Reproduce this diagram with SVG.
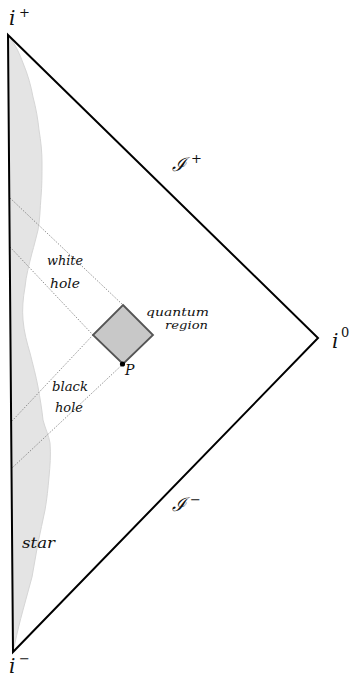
<svg xmlns="http://www.w3.org/2000/svg" width="350" height="684" viewBox="0 0 350 684">
<style>
.lbl{font-family:"DejaVu Serif","Liberation Serif",serif;font-style:italic;fill:#111}
.big{font-family:"DejaVu Serif","Liberation Serif",serif;font-style:italic;fill:#111;font-size:20px}
.sup{font-family:"DejaVu Serif","Liberation Serif",serif;fill:#111;font-size:13px}
.dot{stroke:#777;stroke-width:0.8;stroke-dasharray:1.5 1.5;fill:none}
</style>
<rect width="350" height="684" fill="#fff"/>
<g id="star">
<path d="M8,35 C16,45 20,55 23,63 C28,75 31,86 33,97 C36,108 38,120 39,130 C41,142 42,152 42,163 C42,175 42,186 41,197 C40,208 40,220 38,230 C36,238 34,246 32,253 C29,265 26,276 25,287 C23,298 22,310 23,320 C24,332 27,343 30,353 C33,365 36,376 38,387 C40,398 42,410 43,420 C45,428 49,436 50,443 C51,455 50,466 49,477 C48,488 47,499 45,510 C43,521 40,532 38,543 C36,554 34,566 32,577 C29,588 26,599 23,610 C20,621 17,633 15,643 L13,651 Z" fill="#e4e4e4" stroke="#d6d6d6" stroke-width="1"/>
</g>
<g id="connectors">
<line class="dot" x1="10" y1="198" x2="123" y2="305"/>
<line class="dot" x1="10" y1="247" x2="93" y2="335"/>
<line class="dot" x1="93" y1="335" x2="12" y2="421"/>
<line class="dot" x1="123" y1="364" x2="12" y2="468"/>
</g>
<g id="spacetime">
<path d="M8,35 L318,338 L13,652 Z" fill="none" stroke="#000" stroke-width="2" stroke-linejoin="miter"/>
</g>
<g id="quantum-region">
<path d="M123,305 L153,335 L123,364 L93,335 Z" fill="#c8c8c8" stroke="#555" stroke-width="1.8"/>
</g>
<g id="point-P">
<circle cx="122.5" cy="364" r="2.6" fill="#000"/>
<text class="lbl" x="125" y="375" font-size="14">P</text>
</g>
<g id="labels">
<text class="lbl" x="47" y="265" font-size="13" textLength="36" lengthAdjust="spacingAndGlyphs">white</text>
<text class="lbl" x="50" y="288" font-size="13" textLength="30" lengthAdjust="spacingAndGlyphs">hole</text>
<text class="lbl" x="52" y="391" font-size="13" textLength="36" lengthAdjust="spacingAndGlyphs">black</text>
<text class="lbl" x="55" y="412" font-size="13" textLength="28" lengthAdjust="spacingAndGlyphs">hole</text>
<text class="lbl" x="22" y="548" font-size="15" textLength="33" lengthAdjust="spacingAndGlyphs">star</text>
<text class="lbl" x="146" y="316" font-size="11" textLength="63" lengthAdjust="spacingAndGlyphs">quantum</text>
<text class="lbl" x="165" y="329" font-size="11" textLength="43" lengthAdjust="spacingAndGlyphs">region</text>
</g>
<g id="i-plus"><text class="big" x="9" y="25">i</text><text class="sup" x="19" y="17">+</text></g>
<g id="i-zero"><text class="big" x="332" y="348">i</text><text class="sup" x="341" y="337">0</text></g>
<g id="i-minus"><text class="big" x="9" y="673">i</text><text class="sup" x="19" y="663">−</text></g>
<g id="scri-plus"><text class="lbl" x="172" y="171" font-size="19">ℐ</text><text class="sup" x="191" y="163">+</text></g>
<g id="scri-minus"><text class="lbl" x="172" y="511" font-size="19">ℐ</text><text class="sup" x="190" y="504">−</text></g>
</svg>
